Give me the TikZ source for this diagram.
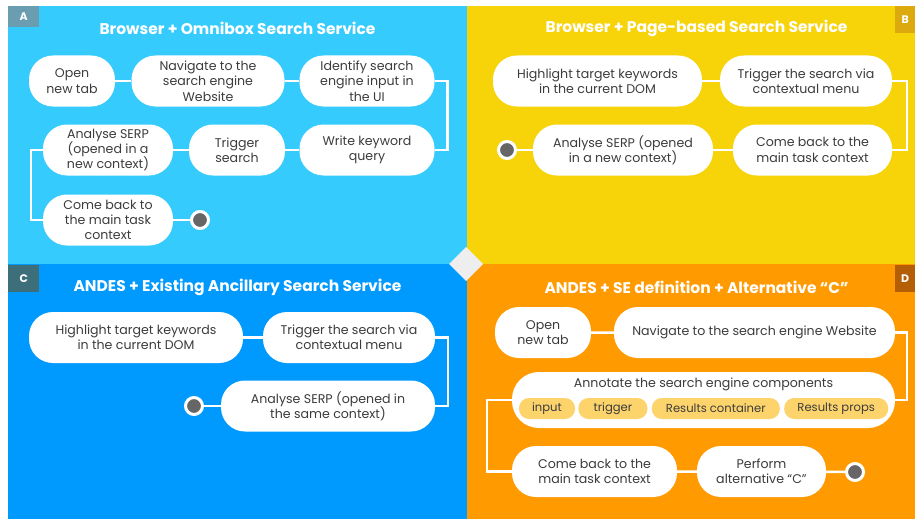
\documentclass[tikz,border=0pt]{standalone}
\usepackage{fontspec}
\setmainfont{Poppins}
\usetikzlibrary{positioning}
\definecolor{paneA}{HTML}{36CBFD}
\definecolor{paneB}{HTML}{F7D30A}
\definecolor{paneC}{HTML}{0099FE}
\definecolor{paneD}{HTML}{FF9A00}
\definecolor{tagA}{HTML}{6A9DAF}
\definecolor{tagB}{HTML}{DCA90E}
\definecolor{tagC}{HTML}{3D6F7B}
\definecolor{tagD}{HTML}{B45E06}
\definecolor{hub}{HTML}{EEEEEE}
\definecolor{ink}{HTML}{3C3C3C}
\definecolor{dotgray}{HTML}{666666}
\definecolor{chipfill}{HTML}{FDD46C}

\begin{document}
\begin{tikzpicture}
  [x=1pt,y=-1pt,
   task/.style={fill=white,rounded corners=24pt,minimum height=51pt,inner sep=0pt,
     align=center,text=ink,font=\fontsize{12.6}{15.3}\selectfont},
   chip/.style={fill=chipfill,rounded corners=10pt,minimum height=21pt,inner sep=0pt,
     text=ink,font=\fontsize{11.6}{13}\selectfont},
   link/.style={draw=white,line width=2.5pt},
   stop/.style={circle,fill=dotgray,draw=white,line width=3pt,minimum size=17pt,inner sep=0pt},
   title/.style={text=white,font=\bfseries\fontsize{15.5}{17}\selectfont},
   tag/.style={text=white,font=\bfseries\fontsize{11}{13}\selectfont,inner sep=0pt,anchor=north west}]
  \useasboundingbox[fill=white] (0,0) rectangle (915,519);
  \fill[paneA] (8,6) rectangle (467,264);
  \fill[paneB] (467,6) rectangle (915,264);
  \fill[paneC] (8,264) rectangle (467,519);
  \fill[paneD] (467,264) rectangle (915,519);
  \fill[hub] (466,247) -- (483,264) -- (466,281) -- (449,264) -- cycle;

  \node[tag,fill=tagA,minimum width=31pt,minimum height=21pt] (tagA) at (8,6) {A};
  \node[tag,fill=tagB,minimum width=20pt,minimum height=27pt] (tagB) at (895,6) {B};
  \node[tag,fill=tagC,minimum width=31pt,minimum height=27pt] (tagC) at (8,265) {C};
  \node[tag,fill=tagD,minimum width=20pt,minimum height=27pt] (tagD) at (895,265) {D};

  \node[title] (titleA) at (237.5,28) {Browser + Omnibox Search Service};
  \node[title] (titleB) at (696.5,28) {Browser + Page-based Search Service};
  \node[title] (titleC) at (237.5,287) {ANDES + Existing Ancillary Search Service};
  \node[title] (titleD) at (696.5,287) {ANDES + SE definition + Alternative “C”};

  \node[task,minimum width=86pt] (a1) at (72,81) {Open\\new tab};
  \node[task,minimum width=153pt] (a2) at (208,81) {Navigate to the\\search engine\\Website};
  \node[task,minimum width=135pt] (a3) at (367,81) {Identify search\\engine input in\\the UI};
  \node[task,minimum width=135pt] (a4) at (367,150) {Write keyword\\query};
  \node[task,minimum width=96pt] (a5) at (237,150) {Trigger\\search};
  \node[task,minimum width=130pt] (a6) at (108,150) {Analyse SERP\\(opened in a\\new context)};
  \node[task,minimum width=130pt] (a7) at (108,220) {Come back to\\the main task\\context};
  \node[stop] (a8) at (200,220) {};
  \draw[link] (a1) -- (a2) (a2) -- (a3) (a4) -- (a5) (a5) -- (a6) (a7) -- (a8);
  \draw[link] (a3.east) -- ++(13,0) |- (a4.east);
  \draw[link] (a6.west) -- ++(-12,0) |- (a7.west);

  \node[task,minimum width=209pt] (b1) at (597.5,81) {Highlight target keywords\\in the current DOM};
  \node[task,minimum width=172pt] (b2) at (806,81) {Trigger the search via\\contextual menu};
  \node[task,minimum width=159pt] (b3) at (812.5,150) {Come back to the\\main task context};
  \node[task,minimum width=180pt] (b4) at (623,150) {Analyse SERP (opened\\in a new context)};
  \node[stop] (b5) at (507,150) {};
  \draw[link] (b1) -- (b2) (b3) -- (b4) (b4) -- (b5);
  \draw[link] (b2.east) -- ++(15,0) |- (b3.east);

  \node[task,minimum width=214pt] (c1) at (136,337.5) {Highlight target keywords\\in the current DOM};
  \node[task,minimum width=172pt] (c2) at (349,337.5) {Trigger the search via\\contextual menu};
  \node[task,minimum width=214pt] (c3) at (328,406) {Analyse SERP (opened in\\the same context)};
  \node[stop] (c4) at (194,406) {};
  \draw[link] (c1) -- (c2) (c3) -- (c4);
  \draw[link] (c2.east) -- ++(13,0) |- (c3.east);

  \node[task,minimum width=96pt] (d1) at (543,332.5) {Open\\new tab};
  \node[task,minimum width=281pt] (d2) at (754.5,332.5) {Navigate to the search engine Website};
  \node[task,minimum width=383pt,minimum height=56pt,rounded corners=27pt] (d3) at (703.5,400) {};
  \node[text=ink,font=\fontsize{12.6}{14}\selectfont] (d3text) at (703.5,384) {Annotate the search engine components};
  \node[chip,minimum width=56pt] (e1) at (547,408.5) {input};
  \node[chip,minimum width=69pt,right=3pt of e1] (e2) {trigger};
  \node[chip,minimum width=128pt,right=4pt of e2] (e3) {Results container};
  \node[chip,minimum width=104pt,right=4pt of e3] (e4) {Results props};
  \node[task,minimum width=165pt] (d4) at (594.5,471.5) {Come back to the\\main task context};
  \node[task,minimum width=129pt] (d5) at (761.5,471.5) {Perform\\alternative “C”};
  \node[stop] (d6) at (855,472) {};
  \draw[link] (d1) -- (d2) (d4) -- (d5) (d5) -- (d6);
  \draw[link] (d2.east) -- ++(12,0) |- (d3.east);
  \draw[link] (d3.west) -- ++(-25,0) |- (d4.west);
\end{tikzpicture}
\end{document}
